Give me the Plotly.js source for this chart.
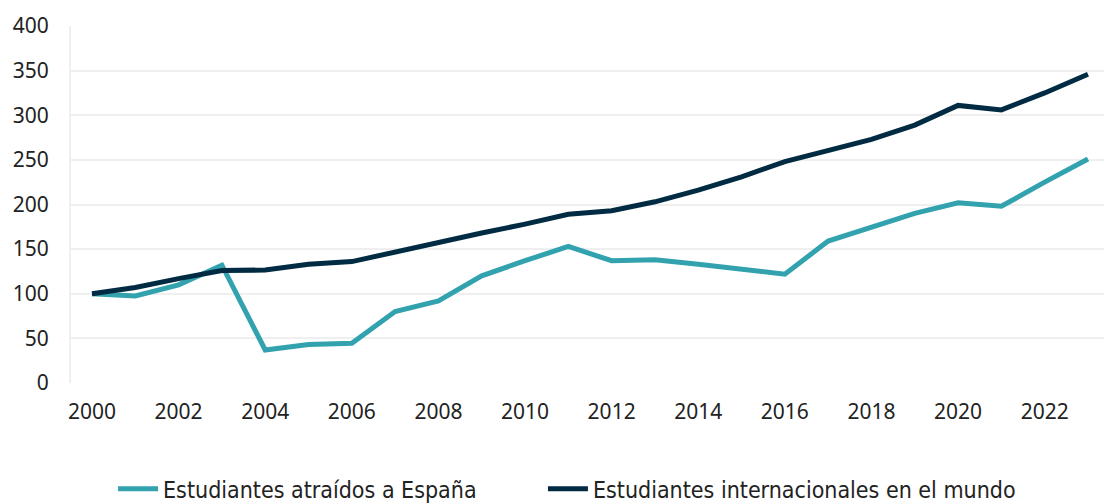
<!DOCTYPE html>
<html>
<head>
<meta charset="utf-8">
<script src="https://cdn.plot.ly/plotly-3.0.1.min.js"></script>
<style>html,body{margin:0;padding:0;background:#fff;}#chart{width:1104px;height:503px;}</style>
</head>
<body>
<div id="chart"></div>
<script>
const years = [2000,2001,2002,2003,2004,2005,2006,2007,2008,2009,2010,2011,2012,2013,2014,2015,2016,2017,2018,2019,2020,2021,2022,2023];
const espana = [100,97.5,110,132,37,43,44.5,80,92,120,137,153,137,138,133,128,122,159,175,190,202,198,225,251];
const mundo = [100,107,117,126,126.6,133,136,147,157,168,178,189,193,203,216,231,248,261,273,289,311,306,325,346];
const seriesNames = ["Estudiantes atraídos a España","Estudiantes internacionales en el mundo"];
const yTicks = [0,50,100,150,200,250,300,350,400];
const xTicks = [2000,2002,2004,2006,2008,2010,2012,2014,2016,2018,2020,2022];

const traces = [
  {x: years, y: espana, name: seriesNames[0], mode: 'lines', line: {color: '#31a2ae', width: 5}, legend: 'legend'},
  {x: years, y: mundo, name: seriesNames[1], mode: 'lines', line: {color: '#002b42', width: 5}, legend: 'legend2'}
];
const legendFont = {family: 'DejaVu Sans Condensed, Liberation Sans Narrow, sans-serif', size: 23, color: '#222'};
const layout = {
  width: 1104, height: 503,
  margin: {l: 71, r: 0, t: 26, b: 120, autoexpand: false},
  paper_bgcolor: '#fff', plot_bgcolor: '#fff',
  font: {family: 'Noto Sans, sans-serif', size: 21, color: '#222'},
  showlegend: true,
  legend: {orientation: 'h', xref: 'container', yref: 'container', x: 0.1024, xanchor: 'left', y: 0.028, yanchor: 'middle',
           font: legendFont, itemwidth: 40},
  legend2: {orientation: 'h', xref: 'container', yref: 'container', x: 0.4918, xanchor: 'left', y: 0.028, yanchor: 'middle',
           font: legendFont, itemwidth: 40},
  xaxis: {range: [1999.515, 2023.37], tickmode: 'array', tickvals: xTicks, ticktext: xTicks.map(String),
          showgrid: false, zeroline: false, showline: false, ticks: '', ticklen: 0, automargin: false, ticklabelstandoff: 14},
  yaxis: {range: [0, 400], tickmode: 'array', tickvals: yTicks, showgrid: true, gridcolor: '#efefef', gridwidth: 2,
          zeroline: false, showline: true, linecolor: '#efefef', linewidth: 2, ticks: '', ticklen: 0, automargin: false, ticklabelstandoff: 16}
};
Plotly.newPlot('chart', traces, layout, {displayModeBar: false, staticPlot: true});
</script>
</body>
</html>
